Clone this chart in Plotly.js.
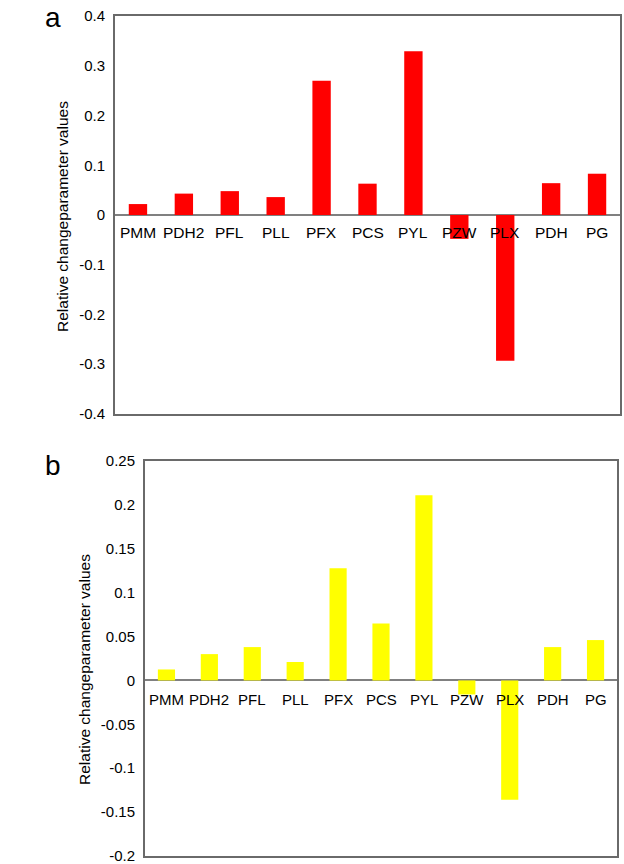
<!DOCTYPE html>
<html>
<head>
<meta charset="utf-8">
<script src="https://cdn.plot.ly/plotly-3.0.1.min.js"></script>
<style>html,body{margin:0;padding:0;background:#fff;}#chart{width:624px;height:864px;}</style>
</head>
<body>
<div id="chart"></div>
<script>
const categories = ["PMM","PDH2","PFL","PLL","PFX","PCS","PYL","PZW","PLX","PDH","PG"];
const valuesA = [0.022,0.043,0.048,0.036,0.270,0.063,0.329,-0.048,-0.293,0.064,0.083];
const valuesB = [0.0125,0.030,0.038,0.021,0.128,0.065,0.211,-0.016,-0.136,0.038,0.046];
const ticksA = [0.4,0.3,0.2,0.1,0,-0.1,-0.2,-0.3,-0.4];
const tickTextA = ["0.4","0.3","0.2","0.1","0","-0.1","-0.2","-0.3","-0.4"];
const ticksB = [0.25,0.2,0.15,0.1,0.05,0,-0.05,-0.1,-0.15,-0.2];
const tickTextB = ["0.25","0.2","0.15","0.1","0.05","0","-0.05","-0.1","-0.15","-0.2"];
const yTitle = "Relative changeparameter values";

const font = "Liberation Sans, Arial, Helvetica, sans-serif";

const traces = [
  {type:"bar", x:categories, y:valuesA, xaxis:"x", yaxis:"y",
   marker:{color:"#ff0000", line:{width:0}}, hoverinfo:"skip"},
  {type:"bar", x:categories, y:valuesB, xaxis:"x2", yaxis:"y2",
   marker:{color:"#ffff00", line:{width:0}}, hoverinfo:"skip"}
];

const axisCommonX = {showticklabels:false, ticks:"", showgrid:false, zeroline:false,
  showline:true, mirror:true, linecolor:"#6a6a6a", linewidth:2, fixedrange:true};
const axisCommonY = {showgrid:false, zeroline:true, zerolinecolor:"#808080", zerolinewidth:2,
  showline:true, mirror:true, linecolor:"#6a6a6a", linewidth:2,
  ticks:"outside", ticklen:5, tickcolor:"rgba(0,0,0,0)", ticklabeloverflow:"allow",
  tickfont:{family:font, size:15, color:"#000"}, fixedrange:true};

const annotations = [];
categories.forEach(c => {
  annotations.push({x:c, y:0, xref:"x", yref:"y", text:c, showarrow:false,
    yanchor:"top", yshift:-7, font:{family:font, size:15.5, color:"#000"}});
  annotations.push({x:c, y:0, xref:"x2", yref:"y2", text:c, showarrow:false,
    yanchor:"top", yshift:-9, font:{family:font, size:15, color:"#000"}});
});
annotations.push({x:0.085, y:1, xref:"paper", yref:"paper", text:"a", showarrow:false,
  xanchor:"center", yanchor:"top", font:{family:font, size:28, color:"#000"}});
annotations.push({x:0.085, y:1 - 448/864, xref:"paper", yref:"paper", text:"b", showarrow:false,
  xanchor:"center", yanchor:"top", font:{family:font, size:28, color:"#000"}});
annotations.push({x:62/624, y:1 - 216/864, xref:"paper", yref:"paper", text:yTitle, textangle:-90,
  showarrow:false, xanchor:"center", yanchor:"middle", font:{family:font, size:15.5, color:"#000"}});
annotations.push({x:84/624, y:1 - 670/864, xref:"paper", yref:"paper", text:yTitle, textangle:-90,
  showarrow:false, xanchor:"center", yanchor:"middle", font:{family:font, size:15.5, color:"#000"}});

const layout = {
  width:624, height:864,
  margin:{l:0, r:0, t:0, b:0},
  paper_bgcolor:"#fff", plot_bgcolor:"#fff",
  showlegend:false,
  bargap:0.6,
  xaxis:Object.assign({}, axisCommonX, {domain:[115/624, 620/624], anchor:"y"}),
  yaxis:Object.assign({}, axisCommonY, {domain:[450/864, 848/864], anchor:"x",
    range:[-0.4001,0.4001], tickvals:ticksA, ticktext:tickTextA}),
  xaxis2:Object.assign({}, axisCommonX, {domain:[145/624, 617/624], anchor:"y2"}),
  yaxis2:Object.assign({}, axisCommonY, {domain:[8/864, 403/864], anchor:"x2",
    range:[-0.2001,0.2501], tickvals:ticksB, ticktext:tickTextB}),
  annotations:annotations
};

Plotly.newPlot("chart", traces, layout, {staticPlot:true, displayModeBar:false});
</script>
</body>
</html>
